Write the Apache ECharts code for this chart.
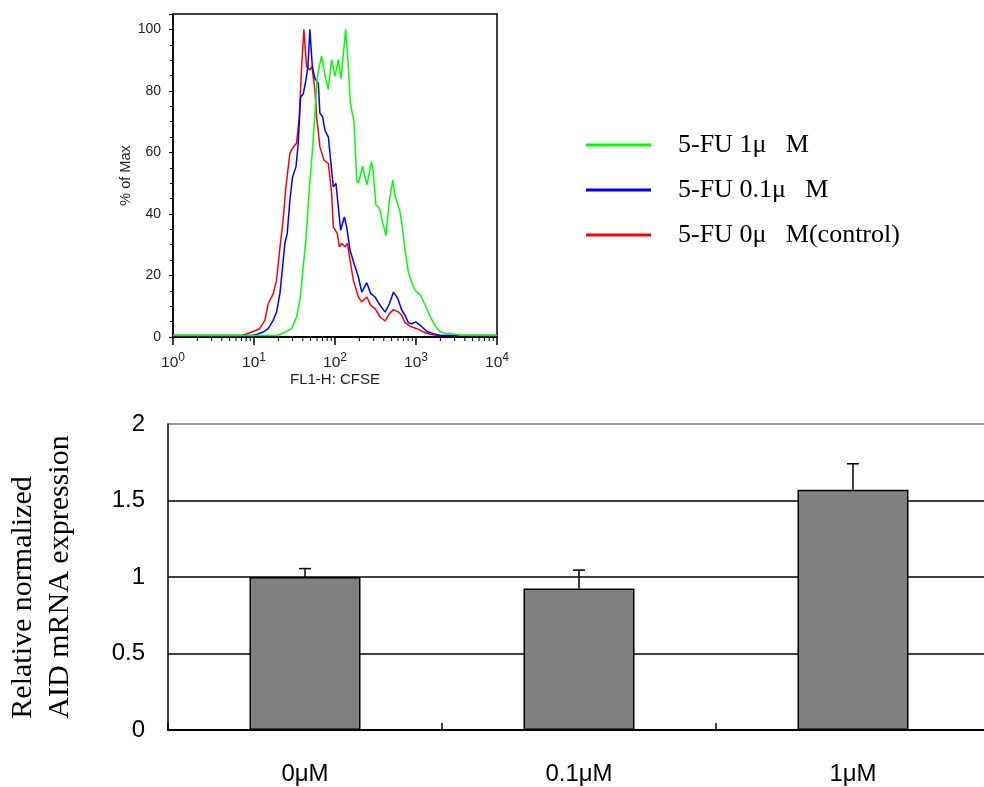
<!DOCTYPE html>
<html>
<head>
<meta charset="utf-8">
<script src="https://cdn.jsdelivr.net/npm/echarts@6/dist/echarts.min.js"></script>
<style>html,body{margin:0;padding:0;background:#fff;}#c{width:984px;height:787px;}</style>
</head>
<body>
<div id="c"></div>
<script>
// ---- Histogram data: [log10(FL1-H CFSE), % of Max] ----
const redLog = [[0,0.5],[0.85,0.5],[0.907,1],[0.99,1.8],[1.07,2.7],[1.134,5.4],[1.175,10.8],[1.237,14],[1.278,18.4],[1.32,29],[1.36,38],[1.394,48.8],[1.443,59.7],[1.485,61.8],[1.526,63],[1.559,71.6],[1.588,87.9],[1.616,100],[1.649,87.9],[1.69,86.8],[1.715,87.9],[1.753,80],[1.773,71.6],[1.814,61.8],[1.864,57.5],[1.918,56.4],[1.959,46.6],[1.979,35.8],[2.029,33.6],[2.054,29.3],[2.082,30.4],[2.124,29.3],[2.153,30.4],[2.186,25],[2.227,18.4],[2.289,13],[2.33,11.4],[2.392,13],[2.441,10.3],[2.495,9.2],[2.557,6.5],[2.619,5.2],[2.672,7.6],[2.722,8.9],[2.784,8.1],[2.825,7],[2.866,4.6],[2.928,3.5],[3.01,2.7],[3.093,1.6],[3.175,0.9],[3.258,0.5],[4,0.5]];
const blueLog = [[0,0.5],[0.98,0.5],[1.031,0.8],[1.113,1.6],[1.175,2.7],[1.237,5.4],[1.278,8.1],[1.32,14.1],[1.353,22.8],[1.381,30.4],[1.41,33.6],[1.443,44.5],[1.476,52],[1.518,55.3],[1.546,62.9],[1.575,78],[1.608,79],[1.641,83.5],[1.666,87.9],[1.69,100],[1.72,87.9],[1.753,84],[1.794,82.4],[1.814,72.7],[1.847,71.6],[1.876,67.2],[1.918,65],[1.946,57.5],[1.979,48.8],[2.012,49.9],[2.041,42.3],[2.07,34.7],[2.115,39],[2.144,35.8],[2.186,28.2],[2.235,23.9],[2.289,19.5],[2.33,14.6],[2.392,17.6],[2.441,14.1],[2.495,13],[2.557,10.3],[2.619,8.1],[2.672,10.8],[2.722,14.6],[2.775,12.5],[2.825,8.7],[2.866,7],[2.907,4.6],[2.948,4.3],[2.998,4.9],[3.052,3.8],[3.134,1.8],[3.216,1.1],[3.299,0.5],[4,0.5]];
const greenLog = [[0,0.5],[1.28,0.5],[1.32,0.8],[1.381,1.6],[1.464,2.7],[1.526,6.5],[1.567,11.9],[1.608,22.8],[1.641,31.5],[1.682,47.7],[1.715,58.6],[1.753,72.7],[1.781,84.6],[1.814,88.9],[1.835,91.3],[1.876,85],[1.917,80.5],[1.959,90.2],[2.0,84.8],[2.041,90.2],[2.074,84],[2.132,100],[2.16,90],[2.19,76],[2.215,72.5],[2.235,70],[2.268,51],[2.29,50],[2.34,55.5],[2.395,49.5],[2.45,57],[2.47,54],[2.505,43],[2.55,41.8],[2.59,37],[2.63,33],[2.67,44],[2.713,51],[2.745,45.5],[2.8,41],[2.83,36],[2.866,28],[2.906,21],[2.957,17],[2.99,15.2],[3.06,13.4],[3.113,10.3],[3.173,6.8],[3.237,3.6],[3.297,1.7],[3.381,1.1],[3.485,0.9],[3.546,0.6],[4,0.5]];
const histNames = ['5-FU 1μ\u2002 M', '5-FU 0.1μ\u2002 M', '5-FU 0μ\u2002 M(control)'];
const histColors = ['#00ff00', '#0000ff', '#ff0000'];

// ---- Bar chart data ----
const categories = ['0μM', '0.1μM', '1μM'];
const barValues = [1.0, 0.925, 1.57];
const errTops = [1.055, 1.045, 1.74];

const toLin = arr => arr.map(p => [Math.pow(10, p[0]), p[1]]);

// minor tick positions for log axis (2..9 per decade)
const minorTicks = [];
for (let k = 0; k < 4; k++) for (let m = 2; m <= 9; m++) minorTicks.push([m * Math.pow(10, k), 0]);

const chart = echarts.init(document.getElementById('c'), null, {renderer: 'canvas'});
const sans = 'Liberation Sans, Arial, sans-serif';
const serif = 'Liberation Serif, Times New Roman, serif';

const option = {
  animation: false,
  backgroundColor: '#fff',
  legend: {
    data: histNames,
    orient: 'vertical',
    left: 586, top: 131,
    padding: 0,
    icon: 'rect',
    itemWidth: 65, itemHeight: 3,
    itemGap: 17,
    textStyle: {fontFamily: serif, fontSize: 26, color: '#000', lineHeight: 28, padding: [0, 0, 0, 22]},
    selectedMode: false
  },
  grid: [
    {left: 173, top: 14, width: 324, height: 323, show: true, borderColor: '#000', borderWidth: 1.5, containLabel: false, outerBoundsMode: 'none'},
    {left: 168, top: 424, width: 822, height: 306, containLabel: false, outerBoundsMode: 'none'}
  ],
  xAxis: [
    {
      gridIndex: 0, type: 'log', logBase: 10, min: 1, max: 10000,
      name: 'FL1-H: CFSE', nameLocation: 'middle', nameGap: 34,
      nameTextStyle: {fontFamily: sans, fontSize: 15, color: '#222'},
      axisLine: {show: true, lineStyle: {color: '#000', width: 2}},
      axisTick: {show: true, length: 8, lineStyle: {color: '#000', width: 1.5}},
      splitLine: {show: false},
      axisLabel: {
        margin: 15,
        formatter: v => '{b|10}{s|' + Math.round(Math.log10(v)) + '}',
        rich: {
          b: {fontFamily: sans, fontSize: 15.5, color: '#222'},
          s: {fontFamily: sans, fontSize: 12, color: '#222', padding: [0, 0, 10, 0]}
        }
      }
    },
    {
      gridIndex: 1, type: 'category', data: categories,
      axisLine: {show: true, lineStyle: {color: '#000', width: 2}},
      axisTick: {show: true, inside: true, length: 7, interval: 0, lineStyle: {color: '#000', width: 1.5}},
      axisLabel: {fontFamily: sans, fontSize: 24, color: '#000', margin: 32},
      splitLine: {show: false}
    }
  ],
  yAxis: [
    {
      gridIndex: 0, type: 'value', min: 0, max: 105, interval: 20,
      name: '% of Max', nameLocation: 'middle', nameGap: 40, nameRotate: 90,
      nameTextStyle: {fontFamily: sans, fontSize: 14.5, color: '#222'},
      axisLine: {show: true, lineStyle: {color: '#000', width: 1.5}},
      axisTick: {show: true, length: 4, lineStyle: {color: '#000', width: 1}},
      minorTick: {show: true, splitNumber: 4, length: 3, lineStyle: {color: '#000', width: 1}},
      axisLabel: {fontFamily: sans, fontSize: 14, color: '#222', margin: 12, showMaxLabel: false},
      splitLine: {show: false}
    },
    {
      gridIndex: 1, type: 'value', min: 0, max: 2, interval: 0.5,
      name: '{a|Relative normalized}\n{a|AID mRNA expression}',
      nameLocation: 'middle', nameGap: 89, nameRotate: 90,
      nameTextStyle: {rich: {a: {fontFamily: serif, fontSize: 30, color: '#000', lineHeight: 37, align: 'left'}}},
      axisLine: {show: true, lineStyle: {color: '#000', width: 1.5}},
      axisTick: {show: false},
      axisLabel: {fontFamily: sans, fontSize: 24, color: '#000', margin: 23},
      splitLine: {show: true, lineStyle: {color: ['#000', '#000', '#000', '#000', '#777'], width: 1.5}}
    }
  ],
  series: [
    {name: histNames[2], type: 'line', xAxisIndex: 0, yAxisIndex: 0, data: toLin(redLog), symbol: 'none', lineStyle: {color: histColors[2], width: 1.5}, itemStyle: {color: histColors[2]}},
    {name: histNames[1], type: 'line', xAxisIndex: 0, yAxisIndex: 0, data: toLin(blueLog), symbol: 'none', lineStyle: {color: histColors[1], width: 1.5}, itemStyle: {color: histColors[1]}},
    {name: histNames[0], type: 'line', xAxisIndex: 0, yAxisIndex: 0, data: toLin(greenLog), symbol: 'none', lineStyle: {color: histColors[0], width: 1.5}, itemStyle: {color: histColors[0]}},
    {
      type: 'custom', xAxisIndex: 0, yAxisIndex: 0, data: minorTicks, clip: false, silent: true,
      renderItem: (params, api) => {
        const p = api.coord([api.value(0), 0]);
        return {type: 'line', shape: {x1: p[0], y1: p[1], x2: p[0], y2: p[1] + 4}, style: {stroke: '#000', lineWidth: 1}};
      }
    },
    {
      type: 'bar', xAxisIndex: 1, yAxisIndex: 1, data: barValues, barWidth: 111,
      itemStyle: {color: '#808080', borderColor: '#000', borderWidth: 1.5}
    },
    {
      type: 'custom', xAxisIndex: 1, yAxisIndex: 1, z: 5,
      data: categories.map((c, i) => [i, barValues[i], errTops[i]]),
      renderItem: (params, api) => {
        const b = api.coord([api.value(0), api.value(1)]);
        const t = api.coord([api.value(0), api.value(2)]);
        return {type: 'group', children: [
          {type: 'line', shape: {x1: b[0], y1: b[1], x2: t[0], y2: t[1]}, style: {stroke: '#000', lineWidth: 1.5}},
          {type: 'line', shape: {x1: t[0] - 6, y1: t[1], x2: t[0] + 6, y2: t[1]}, style: {stroke: '#000', lineWidth: 1.5}}
        ]};
      }
    }
  ]
};
chart.setOption(option);
</script>
</body>
</html>
